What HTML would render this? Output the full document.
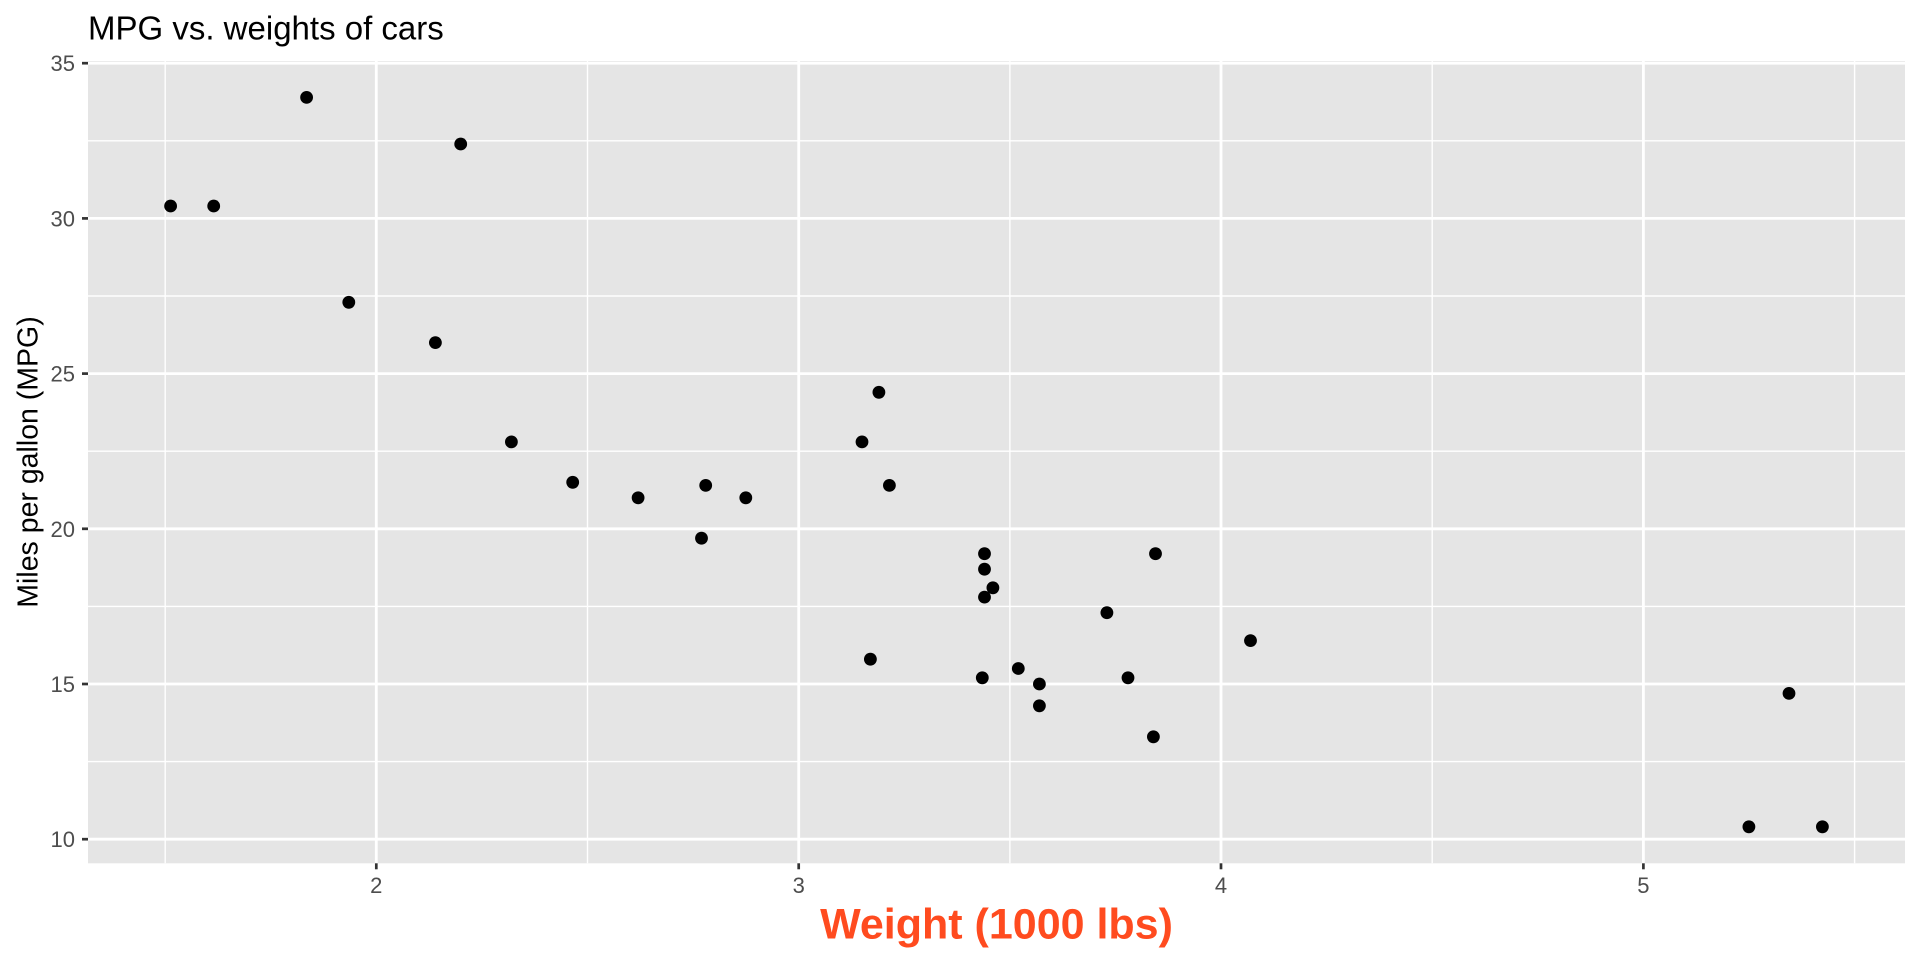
<!DOCTYPE html>
<html>
<head>
<meta charset="utf-8">
<style>
html,body{margin:0;padding:0;background:#fff;}
svg{display:block;}
text{font-family:"Liberation Sans",Arial,sans-serif;}
</style>
</head>
<body>
<svg width="1920" height="960" viewBox="0 0 1920 960" xmlns="http://www.w3.org/2000/svg">
<rect x="0" y="0" width="1920" height="960" fill="#fff"/>
<!-- panel -->
<rect x="88" y="61" width="1817" height="802.3" fill="#E5E5E5"/>
<!-- minor grid -->
<g stroke="#fff" stroke-width="1.4" fill="none">
<line x1="88" x2="1905" y1="761.6" y2="761.6"/>
<line x1="88" x2="1905" y1="606.4" y2="606.4"/>
<line x1="88" x2="1905" y1="451.2" y2="451.2"/>
<line x1="88" x2="1905" y1="296.0" y2="296.0"/>
<line x1="88" x2="1905" y1="140.8" y2="140.8"/>
<line y1="61" y2="863.3" x1="165.2" x2="165.2"/>
<line y1="61" y2="863.3" x1="587.5" x2="587.5"/>
<line y1="61" y2="863.3" x1="1009.9" x2="1009.9"/>
<line y1="61" y2="863.3" x1="1432.2" x2="1432.2"/>
<line y1="61" y2="863.3" x1="1854.6" x2="1854.6"/>
</g>
<!-- major grid -->
<g stroke="#fff" stroke-width="2.8" fill="none">
<line x1="88" x2="1905" y1="839.2" y2="839.2"/>
<line x1="88" x2="1905" y1="684.0" y2="684.0"/>
<line x1="88" x2="1905" y1="528.8" y2="528.8"/>
<line x1="88" x2="1905" y1="373.6" y2="373.6"/>
<line x1="88" x2="1905" y1="218.4" y2="218.4"/>
<line x1="88" x2="1905" y1="63.2" y2="63.2"/>
<line y1="61" y2="863.3" x1="376.3" x2="376.3"/>
<line y1="61" y2="863.3" x1="798.7" x2="798.7"/>
<line y1="61" y2="863.3" x1="1221.0" x2="1221.0"/>
<line y1="61" y2="863.3" x1="1643.4" x2="1643.4"/>
</g>
<!-- points -->
<g fill="#000">
<circle cx="638.1" cy="497.8" r="6.4"/>
<circle cx="745.8" cy="497.8" r="6.4"/>
<circle cx="511.4" cy="441.9" r="6.4"/>
<circle cx="889.4" cy="485.4" r="6.4"/>
<circle cx="984.5" cy="569.2" r="6.4"/>
<circle cx="992.9" cy="587.8" r="6.4"/>
<circle cx="1039.4" cy="705.8" r="6.4"/>
<circle cx="878.9" cy="392.3" r="6.4"/>
<circle cx="862.0" cy="441.9" r="6.4"/>
<circle cx="984.5" cy="553.7" r="6.4"/>
<circle cx="984.5" cy="597.1" r="6.4"/>
<circle cx="1250.5" cy="640.6" r="6.4"/>
<circle cx="1106.9" cy="612.7" r="6.4"/>
<circle cx="1128.0" cy="677.8" r="6.4"/>
<circle cx="1748.9" cy="826.8" r="6.4"/>
<circle cx="1822.4" cy="826.8" r="6.4"/>
<circle cx="1789.0" cy="693.4" r="6.4"/>
<circle cx="460.7" cy="144.0" r="6.4"/>
<circle cx="213.7" cy="206.0" r="6.4"/>
<circle cx="306.6" cy="97.4" r="6.4"/>
<circle cx="572.7" cy="482.3" r="6.4"/>
<circle cx="1018.3" cy="668.5" r="6.4"/>
<circle cx="982.3" cy="677.8" r="6.4"/>
<circle cx="1153.4" cy="736.8" r="6.4"/>
<circle cx="1155.5" cy="553.7" r="6.4"/>
<circle cx="348.8" cy="302.3" r="6.4"/>
<circle cx="435.4" cy="342.6" r="6.4"/>
<circle cx="170.6" cy="206.0" r="6.4"/>
<circle cx="870.4" cy="659.2" r="6.4"/>
<circle cx="701.5" cy="538.2" r="6.4"/>
<circle cx="1039.4" cy="684.0" r="6.4"/>
<circle cx="705.7" cy="485.4" r="6.4"/>
</g>
<!-- ticks -->
<g stroke="#333" stroke-width="2.7">
<line x1="82" x2="88" y1="839.2" y2="839.2"/>
<line x1="82" x2="88" y1="684.0" y2="684.0"/>
<line x1="82" x2="88" y1="528.8" y2="528.8"/>
<line x1="82" x2="88" y1="373.6" y2="373.6"/>
<line x1="82" x2="88" y1="218.4" y2="218.4"/>
<line x1="82" x2="88" y1="63.2" y2="63.2"/>
<line y1="863.3" y2="869.3" x1="376.3" x2="376.3"/>
<line y1="863.3" y2="869.3" x1="798.7" x2="798.7"/>
<line y1="863.3" y2="869.3" x1="1221.0" x2="1221.0"/>
<line y1="863.3" y2="869.3" x1="1643.4" x2="1643.4"/>
</g>
<!-- y tick labels -->
<g fill="#4D4D4D" font-size="22" text-anchor="end">
<text x="75" y="847.2">10</text>
<text x="75" y="692.0">15</text>
<text x="75" y="536.8">20</text>
<text x="75" y="381.6">25</text>
<text x="75" y="226.4">30</text>
<text x="75" y="71.2">35</text>
</g>
<!-- x tick labels -->
<g fill="#4D4D4D" font-size="22" text-anchor="middle">
<text x="376.3" y="893">2</text>
<text x="798.7" y="893">3</text>
<text x="1221.0" y="893">4</text>
<text x="1643.4" y="893">5</text>
</g>
<!-- title -->
<text x="88" y="39.5" font-size="33" fill="#000">MPG vs. weights of cars</text>
<!-- x axis label -->
<text x="996.5" y="938.3" font-size="43" font-weight="bold" fill="#FF4B1F" text-anchor="middle">Weight (1000 lbs)</text>
<!-- y axis label -->
<text transform="translate(37.5,462) rotate(-90)" font-size="28.5" fill="#000" text-anchor="middle">Miles per gallon (MPG)</text>
</svg>
</body>
</html>
